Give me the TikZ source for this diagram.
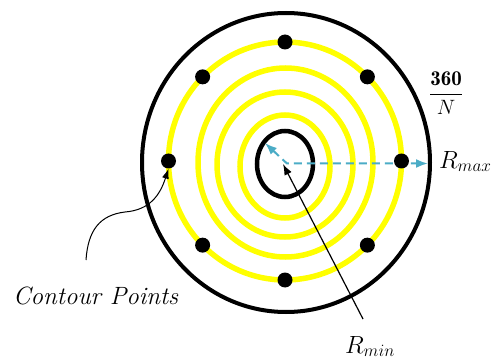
\documentclass[tikz,border=0pt]{standalone}
\usepackage{fontspec}
\usepackage{amsmath}
\usepackage{xcolor}
\usepackage{tikz}
\usetikzlibrary{arrows.meta,positioning,calc}
\definecolor{ringyellow}{HTML}{FFFF00}
\definecolor{arrowblue}{HTML}{4BACC6}

\begin{document}
\begin{tikzpicture}[x=1pt,y=-1pt, ring/.style={draw=ringyellow,line width=5.5pt}, rim/.style={draw=black,line width=4pt}, dot/.style={circle,fill=black,inner sep=0pt,minimum size=15pt}, lbl/.style={font=\fontsize{24}{28}\selectfont,inner sep=0pt}]
\useasboundingbox (0,0) rectangle (499,361);
% disc, sweep rings, hub
\draw[rim] (286,162.5) ellipse [x radius=144pt,y radius=149.5pt];
\draw[ring] (285,161) ellipse [x radius=116.5pt,y radius=119pt];
\draw[ring] (285.5,162.5) ellipse [x radius=87.5pt,y radius=94.5pt];
\draw[ring] (285,164.5) ellipse [x radius=68pt,y radius=72.5pt];
\draw[ring] (285,166.5) ellipse [x radius=45pt,y radius=51.5pt];
\draw[rim,line width=4.5pt] (285,164) ellipse [x radius=28pt,y radius=33pt];
% radii
\coordinate (c) at (281,158); \coordinate (ul) at (265,143); \coordinate (k) at (287,163.5); \coordinate (re) at (428,163.5);
\draw[arrowblue,line width=2pt,dash pattern=on 8pt off 5pt,{Latex[length=12pt,width=9pt]}-{Latex[length=12pt,width=9pt]}] (ul) -- (c) -- (k) -- (re);
\foreach \a in {0,45,...,315} \node[dot] (p\a) at ($(285,161)+(\a:116.5pt and 119pt)$) {};
% labels
\node[lbl,anchor=base west] (rmax) at (439,168) {$R_{max}$};
\node[lbl,anchor=base west] (rmin) at (345,353) {$R_{min}$};
\node[lbl,font=\fontsize{25}{28}\selectfont,anchor=base west] (cp) at (13,304) {\textit{Contour Points}};
\node[font=\fontsize{21}{24}\selectfont,inner sep=0pt] (ang) at (446,93) {$\dfrac{\mathbf{360}}{N}$};
\coordinate (rt) at (363,319); \coordinate (hub) at (283,164); \coordinate (ct) at (86,260);
\draw[line width=1.2pt,-{Latex[length=11pt,width=8pt]}] (rt) -- (hub);
\draw[line width=1pt,-{Latex[length=10pt,width=7pt]}] (ct) .. controls (88,230) and (100,215) .. (125,212) .. controls (150,210) and (160,195) .. (p180.south);
\end{tikzpicture}
\end{document}
